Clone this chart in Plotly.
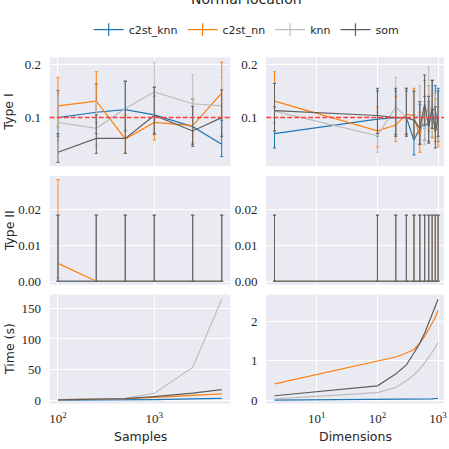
import plotly.graph_objects as go

# ---------------- data ----------------
methods = ["c2st_knn", "c2st_nn", "knn", "som"]
samples = [100, 250, 500, 1000, 2500, 5000]
dims = [2, 100, 200, 300, 400, 500, 600, 700, 800, 900, 1000]

# Type I vs samples: value, upper bound, lower bound
t1s_val = {
    "c2st_knn": [0.100, 0.110, 0.115, 0.105, 0.083, 0.050],
    "c2st_nn":  [0.122, 0.131, 0.060, 0.091, 0.085, 0.146],
    "knn":      [0.091, 0.080, 0.117, 0.148, 0.126, 0.122],
    "som":      [0.035, 0.061, 0.061, 0.104, 0.075, 0.100],
}
t1s_hi = {
    "c2st_knn": [0.151, 0.163, 0.169, 0.157, 0.135, 0.095],
    "c2st_nn":  [0.175, 0.186, 0.105, 0.140, 0.135, 0.204],
    "knn":      [0.140, 0.130, 0.170, 0.204, 0.180, 0.175],
    "som":      [0.070, 0.105, 0.168, 0.157, 0.121, 0.152],
}
t1s_lo = {
    "c2st_knn": [0.065, 0.070, 0.075, 0.068, 0.050, 0.027],
    "c2st_nn":  [0.083, 0.090, 0.033, 0.058, 0.053, 0.100],
    "knn":      [0.057, 0.048, 0.078, 0.105, 0.085, 0.082],
    "som":      [0.016, 0.033, 0.033, 0.070, 0.046, 0.065],
}

# Type I vs dimensions
t1d_val = {
    "c2st_knn": [0.070, 0.097, 0.100, 0.100, 0.058, 0.080, 0.090, 0.085, 0.117, 0.113, 0.086],
    "c2st_nn":  [0.131, 0.075, 0.086, 0.106, 0.104, 0.064, 0.117, 0.110, 0.095, 0.085, 0.075],
    "knn":      [0.112, 0.066, 0.120, 0.100, 0.095, 0.107, 0.080, 0.135, 0.100, 0.095, 0.080],
    "som":      [0.113, 0.104, 0.100, 0.100, 0.095, 0.080, 0.126, 0.083, 0.117, 0.073, 0.100],
}
t1d_hi = {
    "c2st_knn": [0.120, 0.150, 0.150, 0.150, 0.105, 0.125, 0.140, 0.130, 0.170, 0.160, 0.155],
    "c2st_nn":  [0.186, 0.120, 0.140, 0.155, 0.155, 0.110, 0.170, 0.160, 0.145, 0.135, 0.120],
    "knn":      [0.165, 0.110, 0.175, 0.155, 0.150, 0.160, 0.130, 0.195, 0.150, 0.145, 0.130],
    "som":      [0.164, 0.155, 0.155, 0.155, 0.150, 0.130, 0.180, 0.140, 0.170, 0.120, 0.150],
}
t1d_lo = {
    "c2st_knn": [0.043, 0.065, 0.068, 0.068, 0.030, 0.050, 0.058, 0.055, 0.080, 0.078, 0.055],
    "c2st_nn":  [0.090, 0.045, 0.055, 0.070, 0.068, 0.035, 0.080, 0.075, 0.062, 0.055, 0.045],
    "knn":      [0.075, 0.035, 0.083, 0.065, 0.062, 0.070, 0.050, 0.095, 0.065, 0.062, 0.050],
    "som":      [0.075, 0.070, 0.065, 0.065, 0.062, 0.050, 0.085, 0.052, 0.080, 0.043, 0.065],
}

# Type II
t2s_val = {
    "c2st_knn": [0.0, 0.0, 0.0, 0.0, 0.0, 0.0],
    "c2st_nn":  [0.005, 0.0, 0.0, 0.0, 0.0, 0.0],
    "knn":      [0.0, 0.0, 0.0, 0.0, 0.0, 0.0],
    "som":      [0.0, 0.0, 0.0, 0.0, 0.0, 0.0],
}
t2s_hi = {
    "c2st_knn": [0.0185, 0.0185, 0.0185, 0.0185, 0.0185, 0.0185],
    "c2st_nn":  [0.0285, 0.0185, 0.0185, 0.0185, 0.0185, 0.0185],
    "knn":      [0.0185, 0.0185, 0.0185, 0.0185, 0.0185, 0.0185],
    "som":      [0.0185, 0.0185, 0.0185, 0.0185, 0.0185, 0.0185],
}
t2s_lo = {
    "c2st_knn": [0.0, 0.0, 0.0, 0.0, 0.0, 0.0],
    "c2st_nn":  [0.001, 0.0, 0.0, 0.0, 0.0, 0.0],
    "knn":      [0.0, 0.0, 0.0, 0.0, 0.0, 0.0],
    "som":      [0.0, 0.0, 0.0, 0.0, 0.0, 0.0],
}
t2d_val = {m: [0.0, 0.0, 0.0, 0.0, 0.0, 0.0, 0.0, 0.0, 0.0, 0.0, 0.0] for m in methods}
t2d_hi = {m: [0.0185, 0.0185, 0.0185, 0.0185, 0.0185, 0.0185, 0.0185, 0.0185, 0.0185, 0.0185, 0.0185] for m in methods}
t2d_lo = {m: [0.0, 0.0, 0.0, 0.0, 0.0, 0.0, 0.0, 0.0, 0.0, 0.0, 0.0] for m in methods}

# Time
time_s = {
    "c2st_knn": [0.5, 0.7, 1.0, 1.5, 2.5, 3.3],
    "c2st_nn":  [1.5, 2.0, 3.0, 5.0, 8.0, 10.7],
    "knn":      [1.0, 2.0, 3.5, 11.8, 53.7, 164.0],
    "som":      [1.0, 2.0, 3.0, 6.4, 12.0, 17.7],
}
time_d = {
    "c2st_knn": [0.01, 0.02, 0.02, 0.03, 0.03, 0.03, 0.04, 0.04, 0.04, 0.05, 0.05],
    "c2st_nn":  [0.42, 1.0, 1.1, 1.2, 1.29, 1.45, 1.62, 1.8, 1.95, 2.1, 2.28],
    "knn":      [0.04, 0.2, 0.33, 0.5, 0.65, 0.8, 0.95, 1.08, 1.22, 1.35, 1.46],
    "som":      [0.12, 0.37, 0.67, 0.9, 1.2, 1.45, 1.7, 1.95, 2.15, 2.35, 2.56],
}

colors = {"c2st_knn": "#1f77b4", "c2st_nn": "#ff7f0e", "knn": "#bdbdbd", "som": "#5f5f5f"}

# ---------------- figure ----------------
W = H = 449
fig = go.Figure()


def add_err(xs, val, hi, lo, xa, ya, m):
    fig.add_trace(go.Scatter(
        x=xs, y=val, mode="lines", name=m, legendgroup=m, showlegend=False,
        line=dict(color=colors[m], width=1.2),
        error_y=dict(type="data", symmetric=False,
                     array=[h - v for h, v in zip(hi, val)],
                     arrayminus=[v - l for v, l in zip(val, lo)],
                     color=colors[m], thickness=1, width=1.5),
        xaxis=xa, yaxis=ya))


for m in methods:
    add_err(samples, t1s_val[m], t1s_hi[m], t1s_lo[m], "x", "y", m)
    add_err(dims, t1d_val[m], t1d_hi[m], t1d_lo[m], "x2", "y2", m)
    add_err(samples, t2s_val[m], t2s_hi[m], t2s_lo[m], "x3", "y3", m)
    add_err(dims, t2d_val[m], t2d_hi[m], t2d_lo[m], "x4", "y4", m)
    fig.add_trace(go.Scatter(x=samples, y=time_s[m], mode="lines", name=m, legendgroup=m,
                             showlegend=False, line=dict(color=colors[m], width=1.2),
                             xaxis="x5", yaxis="y5"))
    fig.add_trace(go.Scatter(x=dims, y=time_d[m], mode="lines", name=m, legendgroup=m,
                             showlegend=False, line=dict(color=colors[m], width=1.2),
                             xaxis="x6", yaxis="y6"))

# legend entries (line with an error-bar glyph)
for m in methods:
    fig.add_trace(go.Scatter(x=[None], y=[None], mode="lines+markers", name=m, legendgroup=m,
                             showlegend=True, line=dict(color=colors[m], width=1.2),
                             marker=dict(symbol="line-ns", size=9,
                                         line=dict(color=colors[m], width=1.2)),
                             xaxis="x", yaxis="y"))


def px_x(a, b):
    return [a / W, b / W]


def px_y(top, bottom):
    return [1 - bottom / H, 1 - top / H]


left = px_x(50, 232)
right = px_x(268, 447)
rows = [px_y(58, 168), px_y(178, 288), px_y(298, 408)]

tickfont = dict(family="Liberation Serif", size=13, color="#262626")
grid = dict(showgrid=True, gridcolor="white", gridwidth=1, zeroline=False, showline=False)

xs_range = [1.914, 3.79]
xd_range = [0.164, 3.098]
xs_ticks = dict(tickvals=[100, 1000], ticktext=["10<sup>2</sup>", "10<sup>3</sup>"])
xd_ticks = dict(tickvals=[10, 100, 1000], ticktext=["10<sup>1</sup>", "10<sup>2</sup>", "10<sup>3</sup>"])

layout = dict(
    width=W, height=H, margin=dict(l=0, r=0, t=0, b=0),
    paper_bgcolor="white", plot_bgcolor="#EAEAF2",
    font=dict(family="DejaVu Sans", size=12, color="#262626"),
    legend=dict(orientation="h", x=0.553, xanchor="center", y=1 - 30 / H, yanchor="middle",
                font=dict(family="DejaVu Sans", size=11, color="#262626"),
                bgcolor="rgba(0,0,0,0)", itemwidth=30),
    showlegend=True,
)

# x axes
for idx, (dom, rng, tk, show) in {
    "": (left, xs_range, xs_ticks, False),
    "2": (right, xd_range, xd_ticks, False),
    "3": (left, xs_range, xs_ticks, False),
    "4": (right, xd_range, xd_ticks, False),
    "5": (left, xs_range, xs_ticks, True),
    "6": (right, xd_range, xd_ticks, True),
}.items():
    layout["xaxis" + idx] = dict(type="log", domain=dom, range=rng, anchor="y" + idx,
                                 showticklabels=show, tickfont=tickfont,
                                 ticks="outside", ticklen=3, tickcolor="rgba(0,0,0,0)",
                                 ticklabeloverflow="allow", **tk, **grid)

# y axes
yspec = {
    "": (rows[0], [0.009, 0.213], [0.1, 0.2], ["0.1", "0.2"]),
    "2": (rows[0], [0.009, 0.213], [0.1, 0.2], ["0.1", "0.2"]),
    "3": (rows[1], [-0.001, 0.0295], [0.0, 0.01, 0.02], ["0.00", "0.01", "0.02"]),
    "4": (rows[1], [-0.001, 0.0295], [0.0, 0.01, 0.02], ["0.00", "0.01", "0.02"]),
    "5": (rows[2], [-4.8, 172], [0, 50, 100, 150], ["0", "50", "100", "150"]),
    "6": (rows[2], [-0.075, 2.675], [0, 1, 2], ["0", "1", "2"]),
}
for idx, (dom, rng, tv, tt) in yspec.items():
    layout["yaxis" + idx] = dict(domain=dom, range=rng, anchor="x" + idx, tickvals=tv, ticktext=tt,
                                 tickfont=tickfont, ticks="outside", ticklen=5,
                                 tickcolor="rgba(0,0,0,0)", **grid)

fig.update_layout(**layout)

# red dashed reference line at alpha = 0.1 in Type I panels
for xa, ya in [("x", "y"), ("x2", "y2")]:
    fig.add_shape(type="line", xref=xa + " domain", yref=ya, x0=0, x1=1, y0=0.1, y1=0.1,
                  line=dict(color="#ff3c3c", width=1.5, dash="5px,2px"), layer="above")

# titles as annotations
title_font = dict(family="DejaVu Sans", size=12.5, color="#262626")
fig.add_annotation(text="Normal location", x=0.553, y=1 + 1 / H, xref="paper", yref="paper",
                   showarrow=False, font=dict(family="DejaVu Sans", size=14, color="#262626"),
                   xanchor="center", yanchor="middle")
for text, yc in [("Type I", 113), ("Type II", 233), ("Time (s)", 353)]:
    fig.add_annotation(text=text, x=9 / W, y=1 - yc / H, xref="paper", yref="paper",
                       showarrow=False, textangle=-90, font=title_font,
                       xanchor="center", yanchor="middle")
for text, xc in [("Samples", 141), ("Dimensions", 358)]:
    fig.add_annotation(text=text, x=xc / W, y=1 - 441 / H, xref="paper", yref="paper",
                       showarrow=False, font=title_font, xanchor="center", yanchor="middle")

fig.write_html("out.html")
